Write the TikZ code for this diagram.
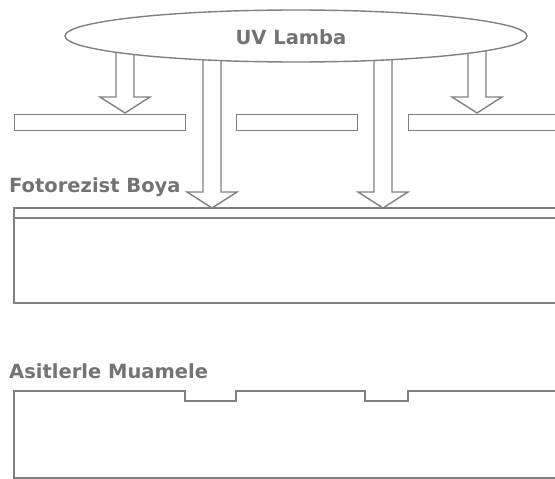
\documentclass[tikz,border=0pt]{standalone}
\usepackage{fontspec}
\setsansfont{DejaVu Sans}
\usepackage{tikz}
\usetikzlibrary{calc,shapes.geometric}
\definecolor{linegray}{gray}{0.5}
\definecolor{textgray}{gray}{0.45}
\tikzset{
	outl/.style={draw=linegray,line width=1.4pt},
	lbl/.style={font=\sffamily\bfseries\fontsize{19.5}{22}\selectfont,text=textgray,inner sep=0pt},
	beam/.style={outl,to path={($(\tikztostart)+(-9,0)$) -- ($(\tikztotarget)+(-9,-16)$)
		-- ($(\tikztotarget)+(-25,-16)$) -- (\tikztotarget) -- ($(\tikztotarget)+(25,-16)$)
		-- ($(\tikztotarget)+(9,-16)$) -- ($(\tikztostart)+(9,0)$)}}
}

\begin{document}
\begin{tikzpicture}[x=1pt,y=-1pt,
			maskbar/.style={outl,rectangle,inner sep=0pt,minimum height=16pt,anchor=north west},
			lamp/.style={outl,ellipse,fill=white,inner sep=0pt,minimum width=462pt,minimum height=52pt}]
			\useasboundingbox (0,0) rectangle (555,479);
			\clip (0,0) rectangle (555,479);
			% mask
			\foreach \n/\x/\w in {1/14/171,2/236/121,3/408/160}
			\node[maskbar,minimum width=\w pt] (mask\n) at (\x,114) {};
			% light beams
			\foreach \i/\x/\y in {1/125/113,2/212/208,3/383/208,4/477/113}{
				\coordinate (src\i) at (\x,45);
				\coordinate (hit\i) at (\x,\y);
				\draw[beam] (src\i) to (hit\i);
			}
			\node[lamp] (lamp) at (296,36) {};
			\node[lbl] (lamptext) at (291,37) {UV Lamba};
			% exposed wafer
			\node[lbl,anchor=base west] (resisttext) at (9,192) {Fotorezist Boya};
			\draw[outl] (570,208) -| (14,303) -- (570,303);
			\draw[outl] (14,218) -- (570,218);
			% etched wafer
			\node[lbl,anchor=base west] (etchtext) at (9,378) {Asitlerle Muamele};
			\draw[outl] (570,391) -- (408,391) -- (408,401) -- (365,401) -- (365,391)
				-- (236,391) -- (236,401) -- (185,401) -- (185,391) -- (14,391)
				-- (14,478) -- (570,478);
		\end{tikzpicture}
\end{document}
